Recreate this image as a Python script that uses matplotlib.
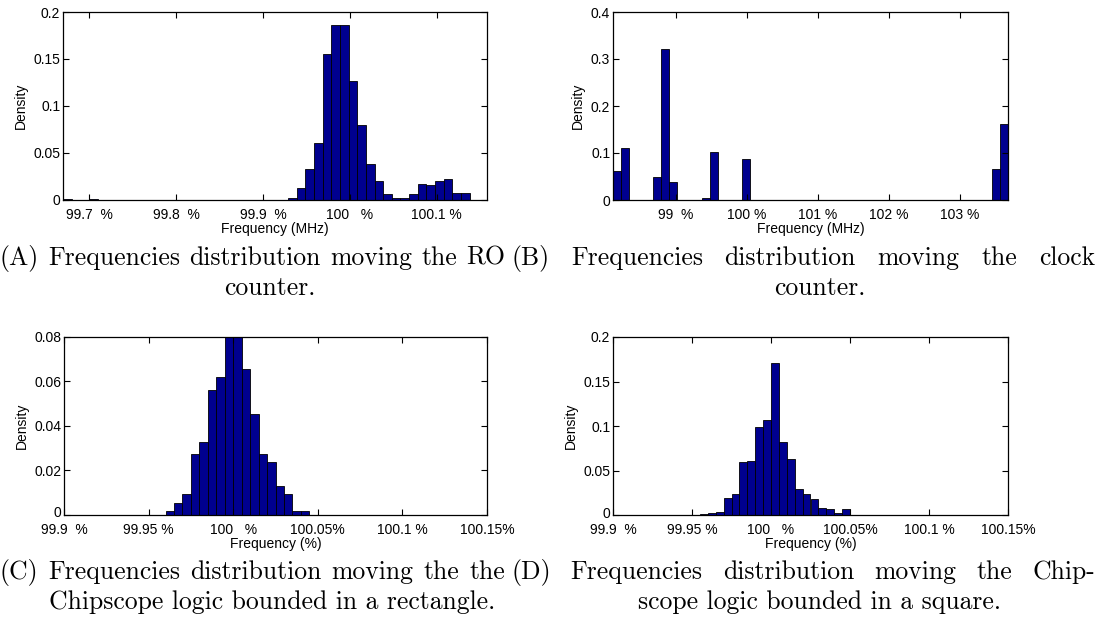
import numpy as np
import matplotlib
matplotlib.use("Agg")
import matplotlib.pyplot as plt
import matplotlib.transforms as mtransforms

plt.rcParams['font.family'] = ['Liberation Sans', 'DejaVu Sans']

BAR = '#00008F'

# (A) RO counter moved, 49 bins over the x range
a_lim = (99.670, 100.1577)
a_dens = [0.001, 0, 0, 0.001, 0, 0, 0, 0, 0, 0,
          0, 0, 0, 0, 0, 0, 0, 0, 0, 0,
          0, 0, 0, 0, 0, 0, 0.002, 0.0128, 0.033, 0.060,
          0.155, 0.186, 0.186, 0.126, 0.080, 0.038, 0.020, 0.0057, 0.002, 0.002,
          0.0057, 0.017, 0.015, 0.020, 0.022, 0.0068, 0.0068, 0, 0]
a_ticks = [99.7, 99.8, 99.9, 100.0, 100.1]
a_tlabels = ['99.7  %', '99.8  %', '99.9  %', '100   %', '100.1 %']

# (B) clock counter moved
b_lim = (98.113, 103.676)
b_dens = [0.062, 0.110, 0, 0, 0, 0.050, 0.321, 0.039, 0, 0,
          0.001, 0.004, 0.102, 0, 0, 0, 0.087, 0, 0, 0,
          0, 0, 0, 0, 0, 0, 0, 0, 0, 0,
          0, 0, 0, 0, 0, 0, 0, 0, 0, 0,
          0, 0, 0, 0, 0.0007, 0, 0, 0.067, 0.161]
b_ticks = [99, 100, 101, 102, 103]
b_tlabels = ['99  %', '100 %', '101 %', '102 %', '103 %']

# (C) chipscope in a rectangle, 50 bins
c_lim = (99.9, 100.15)
c_dens = [0, 0, 0, 0, 0, 0, 0, 0, 0, 0,
          0, 0, 0.0018, 0.0054, 0.0092, 0.0273, 0.0327, 0.0563, 0.0618, 0.080,
          0.080, 0.0655, 0.0453, 0.0273, 0.0237, 0.0128, 0.0092, 0.0018, 0.0018, 0,
          0, 0, 0, 0, 0, 0, 0, 0, 0, 0,
          0, 0, 0, 0, 0, 0, 0, 0, 0, 0]

# (D) chipscope in a square
d_lim = (99.9, 100.15)
d_dens = [0, 0, 0, 0, 0, 0, 0, 0, 0, 0,
          0, 0.0008, 0.0023, 0.003, 0.019, 0.024, 0.060, 0.061, 0.099, 0.107,
          0.171, 0.082, 0.063, 0.029, 0.024, 0.018, 0.008, 0.007, 0.002, 0.007,
          0, 0, 0, 0, 0, 0, 0, 0, 0, 0,
          0, 0, 0, 0, 0, 0, 0, 0, 0, 0]
cd_ticks = [99.9, 99.95, 100.0, 100.05, 100.1, 100.15]
cd_tlabels = ['99.9  %', '99.95 %', '100   %', '100.05%', '100.1 %', '100.15%']

y02 = [0, 0.05, 0.1, 0.15, 0.2]
y02_l = ['0', '0.05', '0.1', '0.15', '0.2']
y04 = [0, 0.1, 0.2, 0.3, 0.4]
y04_l = ['0', '0.1', '0.2', '0.3', '0.4']
y008 = [0, 0.02, 0.04, 0.06, 0.08]
y008_l = ['0', '0.02', '0.04', '0.06', '0.08']

captions = [
    ('(A) Frequencies distribution moving the RO', 'counter.'),
    ('(B) Frequencies distribution moving the clock', 'counter.'),
    ('(C) Frequencies distribution moving the the', 'Chipscope logic bounded in a rectangle.'),
    ('(D) Frequencies distribution moving the Chip-', 'scope logic bounded in a square.'),
]

W, H = 1099, 633
fig = plt.figure(figsize=(W / 100, H / 100), dpi=100)


def px_axes(l, r, t, b):
    return fig.add_axes([l / W, 1 - b / H, (r - l) / W, (b - t) / H])


def hist(ax, lim, dens, xt, xtl, yt, ytl, xlabel):
    edges = np.linspace(lim[0], lim[1], len(dens) + 1)
    ax.bar(edges[:-1], dens, width=np.diff(edges), align='edge',
           color=BAR, edgecolor='black', linewidth=0.6)
    ax.set_xlim(lim)
    ax.set_ylim(yt[0], yt[-1])
    ax.set_xticks(xt)
    ax.set_xticklabels(xtl)
    ax.set_yticks(yt)
    ax.set_yticklabels(ytl)
    ax.tick_params(direction='in', top=True, right=True, length=4,
                   width=0.8, labelsize=10)
    ax.tick_params(axis='x', pad=6)
    ax.tick_params(axis='y', pad=2)
    for s in ax.spines.values():
        s.set_linewidth(0.9)
    ax.set_xlabel(xlabel, fontsize=10, labelpad=0)
    ax.set_ylabel('Density', fontsize=10, labelpad=4)


axA = px_axes(63, 487, 12, 199.5)
hist(axA, a_lim, a_dens, a_ticks, a_tlabels, y02, y02_l, 'Frequency (MHz)')
axB = px_axes(613, 1008, 12, 200)
hist(axB, b_lim, b_dens, b_ticks, b_tlabels, y04, y04_l, 'Frequency (MHz)')
axC = px_axes(64, 487, 337, 514.5)
hist(axC, c_lim, c_dens, cd_ticks, cd_tlabels, y008, y008_l, 'Frequency (%)')
axD = px_axes(613, 1008, 337, 515)
hist(axD, d_lim, d_dens, cd_ticks, cd_tlabels, y02, y02_l, 'Frequency (%)')

# lift the "0" on the lower panels a little, like the original
for ax in (axC, axD):
    lab = ax.get_yticklabels()[0]
    lab.set_transform(lab.get_transform() +
                      mtransforms.ScaledTranslation(0, 3 / 100, fig.dpi_scale_trans))

cap = dict(family='cmr10', fontsize=18.5, va='center')
renderer = fig.canvas.get_renderer()


def justify(line, x0, x1, y):
    words = line.split(' ')
    texts = [fig.text(0, 1 - y / H, w, ha='left', **cap) for w in words]
    widths = [t.get_window_extent(renderer).width for t in texts]
    gap = (x1 - x0 - sum(widths)) / (len(words) - 1)
    x = x0
    for t, w in zip(texts, widths):
        t.set_x(x / W)
        x += w + gap


# caption blocks: (line-1 left, line-1 right, line-2 centre, top line y)
blocks = [(0, 505, 270, 258), (511, 1095, 820, 258),
          (0, 505, 272, 572), (511, 1095, 820, 572)]
for (l1, l2), (x0, x1, xc, y) in zip(captions, blocks):
    justify(l1, x0, x1, y)
    fig.text(xc / W, 1 - (y + 30) / H, l2, ha='center', **cap)

fig.savefig('out.png', dpi=100)
